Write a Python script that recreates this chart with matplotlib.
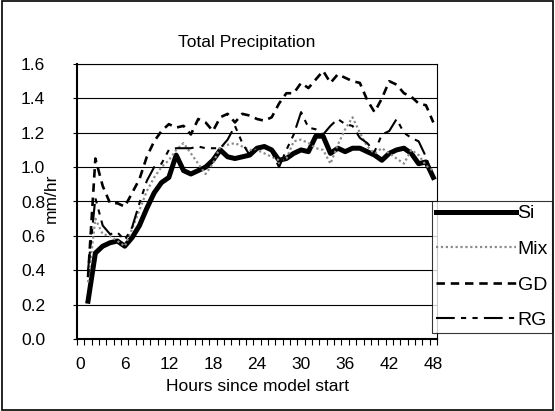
import numpy as np
import matplotlib.pyplot as plt
from matplotlib.patches import Rectangle

plt.rcParams["font.family"] = ["Liberation Sans", "DejaVu Sans"]

# hourly totals, hours 1..48
hours = np.arange(1, 49)
si = [0.22, 0.50, 0.54, 0.56, 0.57, 0.54, 0.59, 0.66, 0.76, 0.85, 0.91, 0.94,
      1.07, 0.98, 0.96, 0.98, 1.00, 1.04, 1.10, 1.06, 1.05, 1.06, 1.07, 1.11,
      1.12, 1.10, 1.04, 1.05, 1.08, 1.10, 1.09, 1.18, 1.18, 1.08, 1.11, 1.09,
      1.11, 1.11, 1.09, 1.07, 1.04, 1.08, 1.10, 1.11, 1.08, 1.02, 1.03, 0.94]
mix = [0.33, 0.70, 0.61, 0.60, 0.57, 0.54, 0.64, 0.75, 0.86, 0.94, 1.00, 1.04,
       1.10, 1.14, 1.08, 1.02, 0.96, 1.02, 1.12, 1.13, 1.14, 1.12, 1.10, 1.10,
       1.08, 1.06, 1.04, 1.05, 1.15, 1.16, 1.14, 1.11, 1.10, 1.02, 1.13, 1.22,
       1.29, 1.20, 1.12, 1.08, 1.11, 1.08, 1.05, 1.02, 1.10, 1.07, 1.01, 0.98]
gd = [0.36, 1.05, 0.89, 0.79, 0.79, 0.77, 0.85, 0.93, 1.06, 1.15, 1.21, 1.25,
      1.23, 1.24, 1.19, 1.28, 1.26, 1.21, 1.29, 1.31, 1.26, 1.31, 1.30, 1.28,
      1.27, 1.29, 1.37, 1.43, 1.43, 1.49, 1.46, 1.51, 1.56, 1.49, 1.54, 1.52,
      1.50, 1.49, 1.39, 1.32, 1.40, 1.50, 1.48, 1.43, 1.41, 1.37, 1.36, 1.26]
rg = [0.40, 0.82, 0.66, 0.61, 0.62, 0.575, 0.65, 0.79, 0.92, 1.00, 1.02, 1.10,
      1.11, 1.11, 1.11, 1.12, 1.11, 1.11, 1.11, 1.16, 1.24, 1.14, 1.07, 1.10,
      1.12, 1.09, 1.00, 1.10, 1.19, 1.32, 1.23, 1.22, 1.19, 1.24, 1.28, 1.25,
      1.24, 1.17, 1.14, 1.09, 1.19, 1.21, 1.28, 1.20, 1.17, 1.15, 1.06, 0.93]
xtick_hours = list(range(0, 49, 6))

W, H = 555, 411
fig = plt.figure(figsize=(W / 100, H / 100), dpi=100)
fig.patches.append(Rectangle((0.003, 0.003), 0.994, 0.994, transform=fig.transFigure,
                             fill=False, edgecolor="black", lw=1.2))

ax = fig.add_axes([77 / W, 1 - 339 / H, 360 / W, 275 / H])
ax.plot(hours, si, color="black", lw=3.6, solid_joinstyle="round", label="Si")
ax.plot(hours, mix, color="#8c8c8c", lw=1.6, linestyle=(0, (1, 1.2)), label="Mix")
ax.plot(hours, gd, color="black", lw=1.9, linestyle=(0, (3.2, 2.2)), label="GD")
ax.plot(hours, rg, color="black", lw=1.5, linestyle=(0, (9, 3, 2.5, 3, 2.5, 3)), label="RG")

ax.set_xlim(-0.5, 48.5)
ax.set_ylim(0, 1.6)
ax.set_yticks(np.arange(0, 1.61, 0.2))
ax.set_yticklabels([f"{v:.1f}" for v in np.arange(0, 1.61, 0.2)])
ax.set_xticks(xtick_hours)
ax.set_xticklabels([str(h) for h in xtick_hours])
ax.set_xticks(np.arange(-0.5, 49, 1), minor=True)
ax.tick_params(axis="x", which="major", length=0, pad=13, labelsize=12.5)
ax.tick_params(axis="x", which="minor", length=4, width=0.8, direction="out")
ax.tick_params(axis="y", length=3, width=0.8, direction="out", labelsize=12.5, pad=20)
ax.yaxis.grid(True, color="black", lw=0.8)
ax.set_axisbelow(True)
for side in ("top", "right"):
    ax.spines[side].set_linewidth(0.8)
for side in ("left", "bottom"):
    ax.spines[side].set_linewidth(1.5)

fig.text(247 / W, 1 - 42 / H, "Total Precipitation", ha="center", va="center", fontsize=12.5)
fig.text(51 / W, 1 - 198 / H, "mm/hr", ha="center", va="center", rotation=90, fontsize=12.5)
fig.text(257 / W, 1 - 386 / H, "Hours since model start", ha="center", va="center", fontsize=12.5)

leg = fig.legend(loc="upper left", bbox_to_anchor=(432 / W, 1 - 201 / H), borderaxespad=0,
                 fontsize=14, frameon=True, fancybox=False, handlelength=4.1,
                 handletextpad=0.1, labelspacing=0.92, borderpad=0.2)
leg.get_frame().set_edgecolor("black")
leg.get_frame().set_linewidth(0.8)

fig.savefig("out.png", dpi=100)
